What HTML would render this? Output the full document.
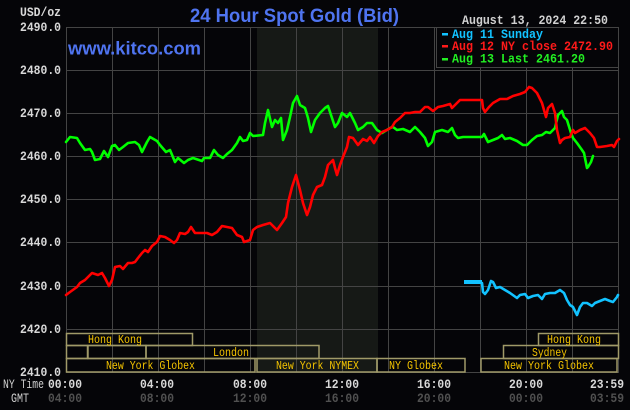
<!DOCTYPE html>
<html><head><meta charset="utf-8"><style>
html,body{margin:0;padding:0;background:#050508;}
svg{display:block;}
.m{font-family:"Liberation Mono",monospace;font-weight:bold;}
.s{font-family:"Liberation Mono",monospace;font-size:12px;fill:#f5c400;}
</style></head><body>
<svg width="630" height="410" viewBox="0 0 630 410" xmlns="http://www.w3.org/2000/svg">
<rect width="630" height="410" fill="#050508"/>
<!-- shaded -->
<rect x="257" y="27" width="121" height="345" fill="#161916"/>
<!-- grid -->
<g stroke="#444" stroke-width="1" fill="none">
<line x1="66.5" y1="27" x2="66.5" y2="373"/>
<line x1="112.5" y1="27" x2="112.5" y2="373"/>
<line x1="158.5" y1="27" x2="158.5" y2="373"/>
<line x1="204.5" y1="27" x2="204.5" y2="373"/>
<line x1="250.5" y1="27" x2="250.5" y2="373"/>
<line x1="296.5" y1="27" x2="296.5" y2="373"/>
<line x1="342.5" y1="27" x2="342.5" y2="373"/>
<line x1="388.5" y1="27" x2="388.5" y2="373"/>
<line x1="434.5" y1="27" x2="434.5" y2="373"/>
<line x1="480.5" y1="27" x2="480.5" y2="373"/>
<line x1="526.5" y1="27" x2="526.5" y2="373"/>
<line x1="572.5" y1="27" x2="572.5" y2="373"/>
<line x1="618.5" y1="27" x2="618.5" y2="373"/>
<line x1="66" y1="27.5" x2="619" y2="27.5"/>
<line x1="66" y1="70.5" x2="619" y2="70.5"/>
<line x1="66" y1="113.5" x2="619" y2="113.5"/>
<line x1="66" y1="156.5" x2="619" y2="156.5"/>
<line x1="66" y1="199.5" x2="619" y2="199.5"/>
<line x1="66" y1="242.5" x2="619" y2="242.5"/>
<line x1="66" y1="286.5" x2="619" y2="286.5"/>
<line x1="66" y1="329.5" x2="619" y2="329.5"/>
<line x1="66" y1="372.5" x2="619" y2="372.5"/>
</g>
<!-- series -->
<g fill="none" stroke-width="2.6" stroke-linejoin="round" stroke-linecap="round">
<polyline stroke="#00ff00" points="66,142 70,137 77,138 80,143 85,150 90,149 92,152 95,160 100,159 104,151 108,157 112,146 115,145 119,150 123,147 128,143 135,142 139,145 142,152 147,142 150,137 157,141 160,145 166,152 170,150 175,162 178,158 184,163 188,160 193,158 202,161 204,158 210,158 214,150 218,155 223,158 227,154 232,150 237,143 240,137 243,141 247,140 250,133 253,136 263,135 265,123 268,110 272,127 275,120 278,123 281,118 283,140 287,130 290,117 293,103 297,96 300,105 305,108 308,118 311,132 315,120 320,113 325,108 328,106 330,112 335,127 338,123 342,113 347,117 350,113 355,123 358,130 363,127 367,123 372,123 377,130 382,133 390,128 393,127 397,130 403,129 410,132 415,127 420,132 425,138 428,146 432,142 435,132 442,130 448,132 452,128 455,135 458,138 463,137 482,137 484,134 488,142 493,140 498,138 502,135 505,139 510,138 517,141 523,145 527,145 532,140 537,136 542,135 546,132 550,133 555,128 558,115 562,111 564,117 567,120 571,133 573,138 577,143 582,150 584,153 587,168 588,167 591,162 593,156"/>
<polyline stroke="#ff0000" points="66,295 70,292 77,287 80,283 85,280 92,273 95,274 98,275 102,273 105,278 109,286 112,280 115,267 120,266 123,269 128,263 132,263 135,262 138,258 142,253 145,250 148,252 152,246 157,242 160,236 165,237 170,240 174,243 177,240 180,233 185,234 188,232 191,227 195,233 200,233 207,233 212,235 217,232 222,226 227,227 232,228 237,235 242,237 244,242 250,240 253,230 257,227 263,225 270,223 273,226 277,230 282,223 286,217 288,203 292,187 296,175 300,190 303,203 307,215 310,207 313,195 317,187 322,185 325,177 328,165 333,160 335,168 337,175 340,165 343,157 347,147 349,137 353,138 358,145 363,139 367,141 370,137 374,143 378,136 382,132 387,130 392,127 395,122 400,118 405,113 410,113 415,112 420,112 425,107 428,107 433,111 438,107 443,106 450,104 452,108 457,103 460,100 482,100 483,108 485,112 489,107 493,103 500,99 507,99 513,96 520,94 525,92 529,87 532,88 537,93 542,103 546,117 548,108 552,104 555,113 557,130 560,143 562,140 565,138 570,137 573,130 575,133 580,130 585,128 590,133 594,138 597,147 600,147 607,146 612,145 614,147 617,141 619,139"/>
<line x1="464" y1="282" x2="482" y2="282" stroke="#12c2ff" stroke-width="4" stroke-linecap="butt"/>
<polyline stroke="#12c2ff" points="482,283 483,292 485,294 488,290 491,281 493,282 496,288 500,287 505,290 510,293 517,298 520,295 525,294 528,298 533,296 538,295 542,299 545,294 550,293 555,293 560,290 564,293 567,300 570,305 573,307 577,315 580,307 583,303 587,303 592,306 595,303 600,301 605,299 610,301 613,302 617,297 618,295"/>
</g>
<!-- legend -->
<rect x="436.5" y="27.5" width="182" height="40" fill="#050508" stroke="#444" stroke-width="1"/>
<rect x="442" y="33" width="6" height="2.5" fill="#12c2ff"/>
<rect x="442" y="45" width="6" height="2.5" fill="#ff1a1a"/>
<rect x="442" y="58" width="6" height="2.5" fill="#22ee22"/>
<text class="m" x="452" y="38" font-size="12.5" fill="#12c2ff" textLength="91" lengthAdjust="spacingAndGlyphs">Aug 11 Sunday</text>
<text class="m" x="452" y="50" font-size="12.5" fill="#ff1a1a" textLength="161" lengthAdjust="spacingAndGlyphs">Aug 12 NY close 2472.90</text>
<text class="m" x="452" y="62.5" font-size="12.5" fill="#22ee22" textLength="133" lengthAdjust="spacingAndGlyphs">Aug 13 Last 2461.20</text>
<!-- header -->
<text x="190" y="22" font-family="Liberation Sans, Arial, sans-serif" font-weight="bold" font-size="19" fill="#4f74f0" textLength="209" lengthAdjust="spacingAndGlyphs">24 Hour Spot Gold (Bid)</text>
<text x="68" y="54.5" font-family="Liberation Sans, Arial, sans-serif" font-weight="bold" font-size="18.5" fill="#4f74f0" textLength="133" lengthAdjust="spacingAndGlyphs">www.kitco.com</text>
<text class="m" x="462" y="24" font-size="12.5" fill="#d0d0d0" textLength="146" lengthAdjust="spacingAndGlyphs">August 13, 2024 22:50</text>
<!-- y labels -->
<g class="m" font-size="13" fill="#d8d8d8">
<text x="20" y="16" textLength="41" lengthAdjust="spacingAndGlyphs">USD/oz</text>
<text x="20" y="31" textLength="41" lengthAdjust="spacingAndGlyphs">2490.0</text>
<text x="20" y="74" textLength="41" lengthAdjust="spacingAndGlyphs">2480.0</text>
<text x="20" y="117" textLength="41" lengthAdjust="spacingAndGlyphs">2470.0</text>
<text x="20" y="160" textLength="41" lengthAdjust="spacingAndGlyphs">2460.0</text>
<text x="20" y="203" textLength="41" lengthAdjust="spacingAndGlyphs">2450.0</text>
<text x="20" y="246" textLength="41" lengthAdjust="spacingAndGlyphs">2440.0</text>
<text x="20" y="290" textLength="41" lengthAdjust="spacingAndGlyphs">2430.0</text>
<text x="20" y="333" textLength="41" lengthAdjust="spacingAndGlyphs">2420.0</text>
<text x="20" y="376" textLength="41" lengthAdjust="spacingAndGlyphs">2410.0</text>
</g>
<!-- sessions -->
<g fill="none" stroke="#a09a68" stroke-width="1.5">
<rect x="66.5" y="333.5" width="126" height="12"/>
<rect x="538.5" y="333.5" width="80" height="12"/>
<rect x="66.5" y="345.5" width="21" height="13"/>
<rect x="88" y="345.5" width="58" height="13"/>
<rect x="146" y="345.5" width="173" height="13"/>
<rect x="503.5" y="345.5" width="115" height="13"/>
<rect x="66.5" y="358.5" width="188.5" height="13.5"/>
<rect x="257" y="358.5" width="120" height="13.5"/>
<rect x="377" y="358.5" width="88" height="13.5"/>
<rect x="481" y="358.5" width="136" height="13.5"/>
</g>
<text class="s" x="88" y="343" textLength="54" lengthAdjust="spacingAndGlyphs">Hong Kong</text>
<text class="s" x="547" y="343" textLength="54" lengthAdjust="spacingAndGlyphs">Hong Kong</text>
<text class="s" x="213" y="356" textLength="36" lengthAdjust="spacingAndGlyphs">London</text>
<text class="s" x="532" y="356" textLength="35" lengthAdjust="spacingAndGlyphs">Sydney</text>
<text class="s" x="106" y="369" textLength="89" lengthAdjust="spacingAndGlyphs">New York Globex</text>
<text class="s" x="276" y="369" textLength="83" lengthAdjust="spacingAndGlyphs">New York NYMEX</text>
<text class="s" x="389" y="369" textLength="54" lengthAdjust="spacingAndGlyphs">NY Globex</text>
<text class="s" x="504" y="369" textLength="90" lengthAdjust="spacingAndGlyphs">New York Globex</text>
<!-- time labels -->
<g class="m" font-size="13">
<text x="3" y="388" fill="#cfcfcf" font-weight="normal" textLength="41" lengthAdjust="spacingAndGlyphs">NY Time</text>
<text x="11" y="402" fill="#cfcfcf" font-weight="normal" textLength="18" lengthAdjust="spacingAndGlyphs">GMT</text>
<g fill="#d8d8d8">
<text x="48" y="388" textLength="34" lengthAdjust="spacingAndGlyphs">00:00</text>
<text x="140" y="388" textLength="34" lengthAdjust="spacingAndGlyphs">04:00</text>
<text x="233" y="388" textLength="34" lengthAdjust="spacingAndGlyphs">08:00</text>
<text x="325" y="388" textLength="34" lengthAdjust="spacingAndGlyphs">12:00</text>
<text x="417" y="388" textLength="34" lengthAdjust="spacingAndGlyphs">16:00</text>
<text x="509" y="388" textLength="34" lengthAdjust="spacingAndGlyphs">20:00</text>
<text x="590" y="388" textLength="34" lengthAdjust="spacingAndGlyphs">23:59</text>
</g>
<g fill="#505050">
<text x="48" y="402" textLength="34" lengthAdjust="spacingAndGlyphs">04:00</text>
<text x="140" y="402" textLength="34" lengthAdjust="spacingAndGlyphs">08:00</text>
<text x="233" y="402" textLength="34" lengthAdjust="spacingAndGlyphs">12:00</text>
<text x="325" y="402" textLength="34" lengthAdjust="spacingAndGlyphs">16:00</text>
<text x="417" y="402" textLength="34" lengthAdjust="spacingAndGlyphs">20:00</text>
<text x="509" y="402" textLength="34" lengthAdjust="spacingAndGlyphs">00:00</text>
<text x="590" y="402" textLength="34" lengthAdjust="spacingAndGlyphs">03:59</text>
</g>
</g>
</svg>
</body></html>
